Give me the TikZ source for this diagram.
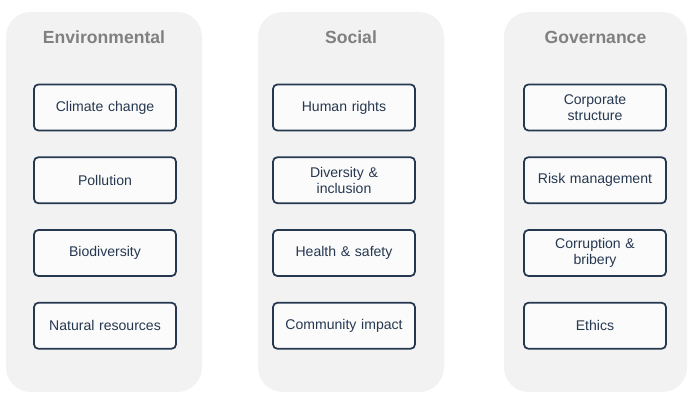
\documentclass[tikz,border=0pt]{standalone}
\usepackage{fontspec}
\setmainfont{Liberation Sans}
\usepackage{tikz}
\usetikzlibrary{positioning}
\definecolor{panelgray}{RGB}{242, 242, 242}
\definecolor{itemnavy}{RGB}{38, 56, 80}
\definecolor{titlegray}{RGB}{128, 128, 128}

\begin{document}
\begin{tikzpicture}[
  node distance   = 0.50cm,
  pillarBG/.style   = {rectangle, rounded corners=14pt, fill=panelgray,
                        minimum height=7.6cm, inner sep=0pt},
  pillarTITLE/.style= {font=\bfseries\fontsize{10}{12}\selectfont, color=titlegray},
  itemBOX/.style    = {rectangle, rounded corners=2.5pt,
                        minimum width=2.84cm, minimum height=0.92cm,
                        text width=2.6cm, align=center,
                        font=\fontsize{8}{9}\selectfont, text=itemnavy,
                        draw=itemnavy, line width=1pt, fill=white!70!panelgray, inner sep=2pt},
]
\useasboundingbox (0,0) rectangle (14,8.06);

%% Pillar panels
\node[pillarBG, minimum width=3.92cm] (envBG) at (2.08, 4.02) {};
\node[pillarBG, minimum width=3.72cm] (socBG) at (7.02, 4.02) {};
\node[pillarBG, minimum width=3.66cm] (govBG) at (11.91, 4.02) {};

%% Titles
\node[pillarTITLE] (envT) at (2.08, 7.32) {Environmental};
\node[pillarTITLE] (socT) at (7.02, 7.32) {Social};
\node[pillarTITLE] (govT) at (11.91, 7.32) {Governance};

%% Environmental
\node[itemBOX] (e1) at (2.10, 5.91) {Climate change};
\node[itemBOX, below=of e1] (e2) {Pollution};
\node[itemBOX, below=of e2] (e3) {Biodiversity};
\node[itemBOX, below=of e3] (e4) {Natural resources};

%% Social
\node[itemBOX] (s1) at (6.88, 5.91) {Human rights};
\node[itemBOX, below=of s1] (s2) {Diversity \&\\ inclusion};
\node[itemBOX, below=of s2] (s3) {Health \& safety};
\node[itemBOX, below=of s3] (s4) {Community impact};

%% Governance
\node[itemBOX] (g1) at (11.90, 5.91) {Corporate\\ structure};
\node[itemBOX, below=of g1] (g2) {Risk management};
\node[itemBOX, below=of g2] (g3) {Corruption \&\\ bribery};
\node[itemBOX, below=of g3] (g4) {Ethics};

\end{tikzpicture}
\end{document}
